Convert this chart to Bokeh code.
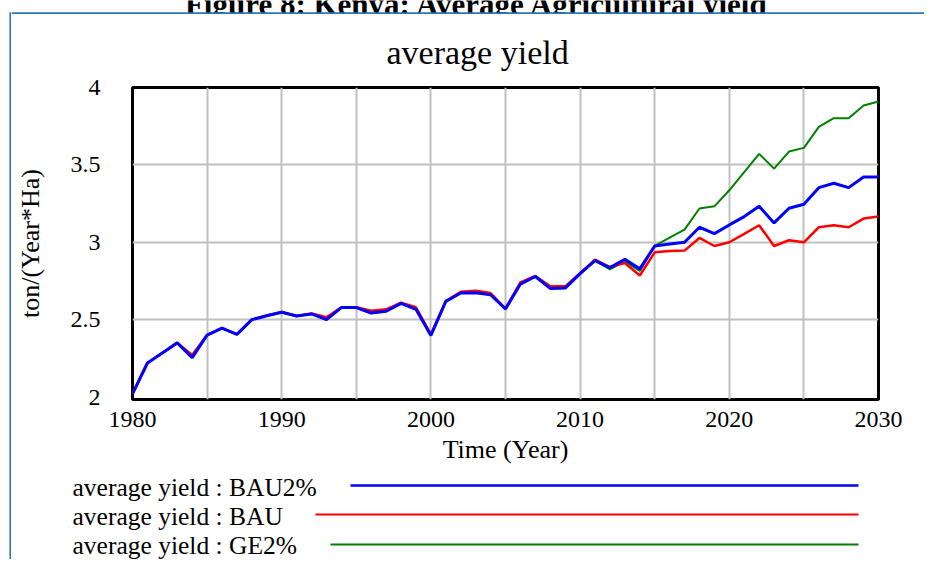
from bokeh.plotting import figure
from bokeh.models import Range1d, FixedTicker, Title
from bokeh.layouts import row, column
from bokeh.core.properties import value
from bokeh.embed import file_html
from bokeh.resources import INLINE

# ---------------- data ----------------
years = list(range(1980, 2031))

bau2 = [2.02, 2.22, 2.285, 2.35, 2.255, 2.40, 2.445, 2.405, 2.50, 2.525,
        2.548, 2.524, 2.537, 2.50, 2.578, 2.578, 2.543, 2.554, 2.605, 2.567,
        2.398, 2.618, 2.672, 2.674, 2.661, 2.569, 2.730, 2.779, 2.702, 2.704,
        2.797, 2.881, 2.836, 2.890, 2.828, 2.976, 2.989, 3.000, 3.097, 3.056,
        3.112, 3.166, 3.233, 3.125, 3.220, 3.246, 3.353, 3.381, 3.353, 3.422,
        3.422]

bau = [2.02, 2.22, 2.285, 2.35, 2.272, 2.40, 2.445, 2.405, 2.50, 2.527,
       2.550, 2.524, 2.540, 2.515, 2.580, 2.580, 2.558, 2.567, 2.610, 2.580,
       2.405, 2.620, 2.680, 2.687, 2.672, 2.572, 2.741, 2.782, 2.715, 2.715,
       2.800, 2.888, 2.840, 2.866, 2.785, 2.935, 2.944, 2.946, 3.028, 2.976,
       3.000, 3.054, 3.110, 2.976, 3.013, 3.000, 3.097, 3.110, 3.097, 3.153,
       3.166]

ge2 = [2.02, 2.22, 2.285, 2.35, 2.255, 2.40, 2.445, 2.405, 2.50, 2.525,
       2.548, 2.524, 2.537, 2.50, 2.578, 2.578, 2.543, 2.554, 2.605, 2.567,
       2.398, 2.618, 2.672, 2.674, 2.661, 2.569, 2.730, 2.779, 2.702, 2.704,
       2.797, 2.881, 2.825, 2.877, 2.815, 2.976, 3.030, 3.082, 3.218, 3.232,
       3.336, 3.453, 3.571, 3.476, 3.586, 3.610, 3.746, 3.802, 3.802, 3.884,
       3.909]

x_tick_values = [1980, 1990, 2000, 2010, 2020, 2030]
x_grid_values = [1985, 1990, 1995, 2000, 2005, 2010, 2015, 2020, 2025]
y_tick_values = [2, 2.5, 3, 3.5, 4]
y_tick_labels = ["2", "2.5", "3", "3.5", "4"]
y_grid_values = [2.5, 3, 3.5]

header = "Figure 8: Kenya: Average Agricultural yield"
chart_title = "average yield"
x_label = "Time (Year)"
y_label = "ton/(Year*Ha)"
legend_names = ["average yield : BAU2%", "average yield : BAU", "average yield : GE2%"]
legend_colors = ["#0000FF", "#FF0000", "#008000"]

# ---------------- styling constants ----------------
FONT = "Liberation Serif"
BORDER_BLUE = "#2E75B6"
W_TOTAL, H_TOTAL = 924, 559
STRIP_W, TOP_H = 11, 14
MAIN_H = 456
LEG_H = H_TOTAL - TOP_H - MAIN_H
INNER_W = W_TOTAL - STRIP_W


def blank(width, height, xr, yr):
    f = figure(width=width, height=height, output_backend="svg", toolbar_location=None,
               x_range=Range1d(*xr), y_range=Range1d(*yr),
               x_axis_location=None, y_axis_location=None, min_border=0,
               background_fill_color="white", border_fill_color="white")
    f.grid.visible = False
    f.outline_line_color = None
    return f


# left strip: left edge of the blue box
left_strip = blank(STRIP_W, H_TOTAL, (0, STRIP_W), (H_TOTAL, 0))
left_strip.segment(x0=[9.9], y0=[11.75], x1=[9.9], y1=[H_TOTAL], line_color=BORDER_BLUE, line_width=2)

# top strip: cut-off page header + top edge of the blue box
top_strip = blank(INNER_W, TOP_H, (STRIP_W, W_TOTAL), (TOP_H, 0))
top_strip.text(x=[477], y=[4], text=[header], text_font=value(FONT), text_font_size=value("31px"),
               text_font_style="bold", text_align="center", text_baseline="alphabetic",
               text_color="black")
top_strip.segment(x0=[STRIP_W], y0=[12.75], x1=[W_TOTAL], y1=[12.75], line_color=BORDER_BLUE, line_width=2)

# ---------------- main chart ----------------
p = figure(width=INNER_W, height=MAIN_H, output_backend="svg", toolbar_location=None,
           x_range=Range1d(1980, 2030), y_range=Range1d(1.984, 4.0),
           min_border_left=121, min_border_right=46,
           min_border_top=73, min_border_bottom=71,
           background_fill_color="white", border_fill_color="white")

p.title = Title(text=chart_title, align="left", offset=254,
                text_font=FONT, text_font_size="34px", text_font_style="normal",
                text_color="black", standoff=33)

p.outline_line_color = "black"
p.outline_line_width = 3
p.outline_line_alpha = 1

p.xaxis.ticker = FixedTicker(ticks=x_tick_values)
p.yaxis.ticker = FixedTicker(ticks=y_tick_values)
p.yaxis.major_label_overrides = {float(v): s for v, s in zip(y_tick_values, y_tick_labels)}
p.xgrid.ticker = FixedTicker(ticks=x_grid_values)
p.ygrid.ticker = FixedTicker(ticks=y_grid_values)

for g in (p.xgrid, p.ygrid):
    g.grid_line_color = "#C0C0C0"
    g.grid_line_width = 2

for ax in (p.xaxis, p.yaxis):
    ax.axis_line_color = None
    ax.major_tick_line_color = None
    ax.minor_tick_line_color = None
    ax.major_tick_out = 0
    ax.major_tick_in = 0
    ax.major_label_text_font = FONT
    ax.major_label_text_font_size = "24px"
    ax.major_label_text_color = "black"
    ax.axis_label_text_font = FONT
    ax.axis_label_text_font_size = "26px"
    ax.axis_label_text_font_style = "normal"
    ax.axis_label_text_color = "black"

p.xaxis.axis_label = x_label
p.yaxis.axis_label = y_label
p.xaxis.major_label_standoff = 12
p.xaxis.axis_label_standoff = 5
p.yaxis.major_label_standoff = 32
p.yaxis.axis_label_standoff = 23

# series lines (green below, then red, blue on top)
p.line(years, ge2, line_color=legend_colors[2], line_width=2)
p.line(years, bau, line_color=legend_colors[1], line_width=2.5)
p.line(years, bau2, line_color=legend_colors[0], line_width=3)

# ---------------- legend panel: text, then a long line ending at the right ----------------
leg_top = TOP_H + MAIN_H
leg = blank(INNER_W, LEG_H, (STRIP_W, W_TOTAL), (H_TOTAL, leg_top))
legend_text_y = [487, 516, 544.5]
legend_line_y = [485, 514, 544]
legend_line_x0 = [350, 315, 330]
legend_line_w = [2.5, 2.2, 2.2]
leg.text(x=[72] * 3, y=legend_text_y, text=legend_names, text_font=value(FONT),
         text_font_size=value("25.5px"), text_align="left", text_baseline="middle",
         text_color="black")
for col, ly, x0, lw in zip(legend_colors, legend_line_y, legend_line_x0, legend_line_w):
    leg.segment(x0=[x0], y0=[ly], x1=[858], y1=[ly], line_color=col, line_width=lw)

# each plot wrapped in its own row so the column does not align their frames
layout = row(left_strip, column(row(top_strip), row(p), row(leg)))

open("out.html", "w").write(file_html(layout, INLINE))
